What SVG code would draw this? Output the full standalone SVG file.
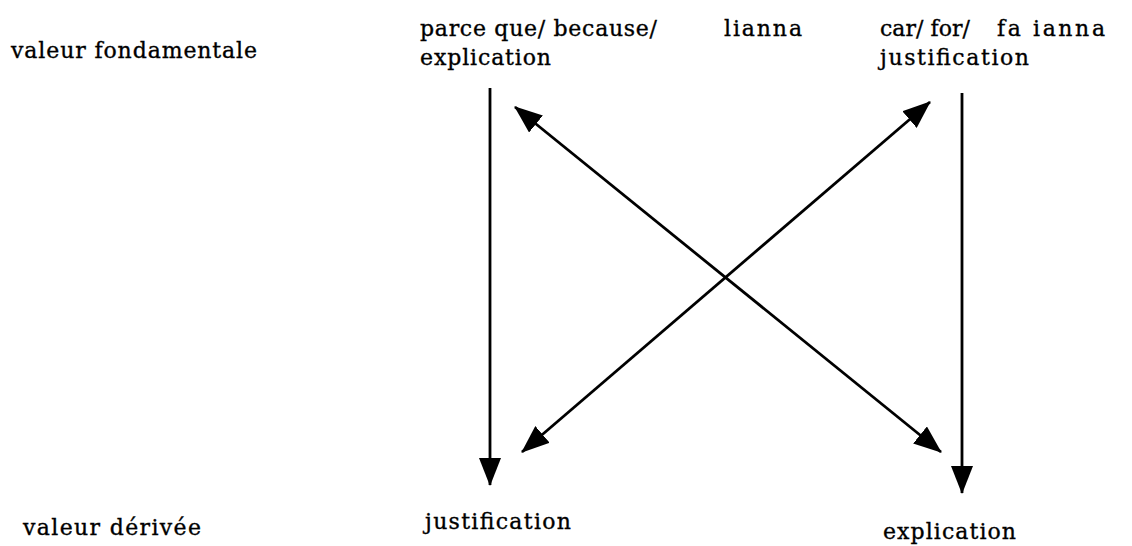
<svg xmlns="http://www.w3.org/2000/svg" width="1132" height="546" viewBox="0 0 1132 546">
<style>
text{font-family:"DejaVu Serif","Liberation Serif",serif;font-size:22px;fill:#000;stroke:#000;stroke-width:0.35}
.c{stroke:#000;stroke-width:2.8;fill:none}
</style>
<defs>
<marker id="ah" viewBox="0 0 28 22" refX="27" refY="11" markerWidth="28" markerHeight="22" markerUnits="userSpaceOnUse" orient="auto-start-reverse">
<path d="M0,0 L28,11 L0,22 z" fill="#000"/>
</marker>
</defs>
<rect width="1132" height="546" fill="#fff"/>
<g id="label-valeur-fondamentale"><text x="11" y="58" textLength="246">valeur fondamentale</text></g>
<g id="label-valeur-derivee"><text x="23" y="535" textLength="178">valeur dérivée</text></g>
<g id="node-parce-que">
<text x="420" y="36" textLength="237">parce que/ because/</text>
<text x="420" y="65" textLength="131">explication</text>
</g>
<g id="node-lianna"><text x="724" y="36" textLength="78">lianna</text></g>
<g id="node-car">
<text x="880" y="36" textLength="90">car/ for/</text>
<text x="997" y="36" textLength="108">fa ianna</text>
<text x="880" y="65" textLength="149">justification</text>
</g>
<g id="node-justification"><text x="425" y="529" textLength="146">justification</text></g>
<g id="node-explication"><text x="883" y="539" textLength="133">explication</text></g>
<g id="connectors">
<line class="c" x1="490" y1="88" x2="490" y2="485" marker-end="url(#ah)"/>
<line class="c" x1="962" y1="93" x2="962" y2="493" marker-end="url(#ah)"/>
<line class="c" x1="515" y1="107" x2="941" y2="452" marker-start="url(#ah)" marker-end="url(#ah)"/>
<line class="c" x1="930" y1="102" x2="522" y2="452" marker-start="url(#ah)" marker-end="url(#ah)"/>
</g>
</svg>
